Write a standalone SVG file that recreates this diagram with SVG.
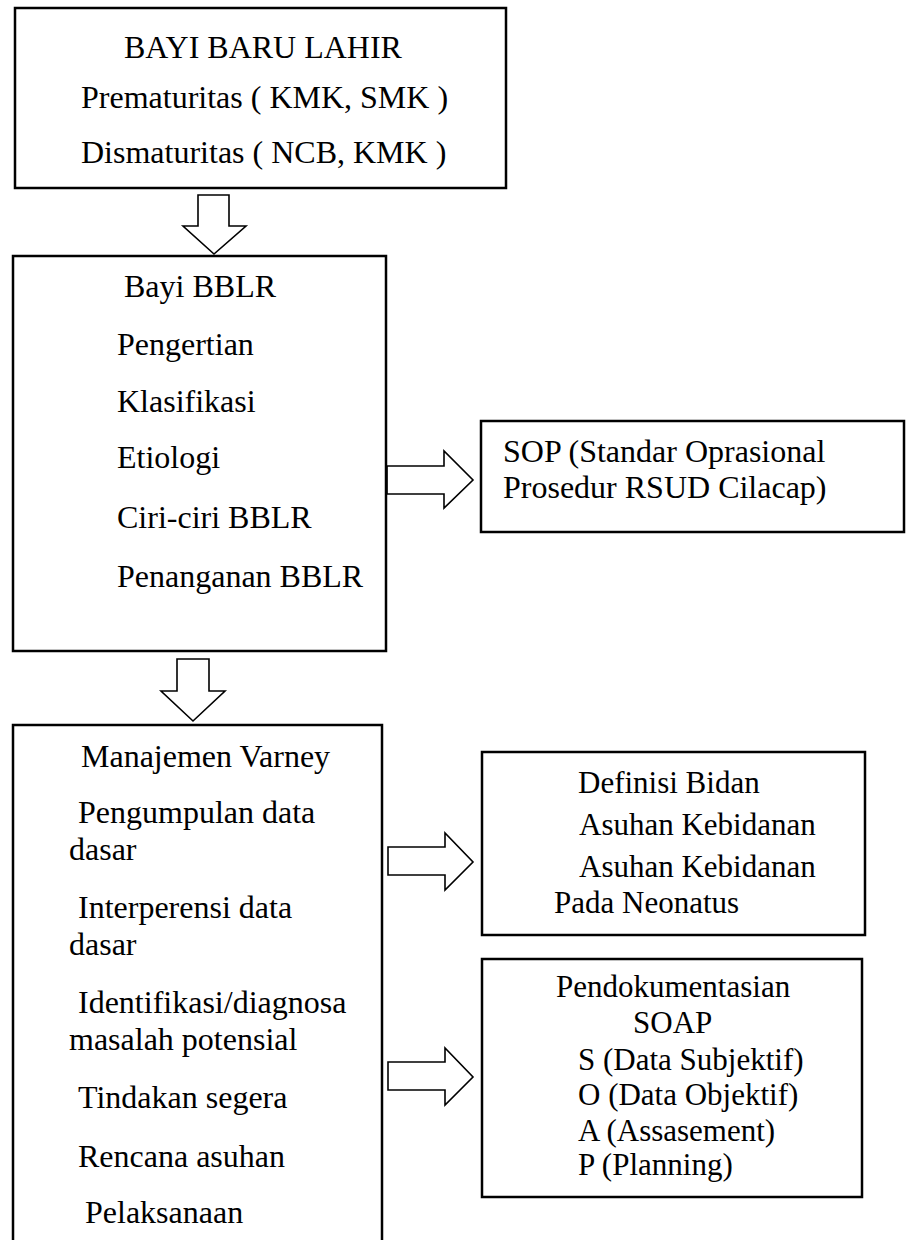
<svg xmlns="http://www.w3.org/2000/svg" width="906" height="1240" viewBox="0 0 906 1240">
<style>
  .box { fill: #fff; stroke: #000; stroke-width: 2.5; }
  .arr { fill: #fff; stroke: #000; stroke-width: 1.6; stroke-linejoin: miter; }
  text { font-family: "Liberation Serif", "Times New Roman", serif; font-size: 32px; fill: #000; }
  .sm { font-size: 31px; }
</style>
<rect width="906" height="1240" fill="#fff"/>
<g id="connectors">
  <polygon class="arr" points="198,195 229,195 229,226 246,226 214,254 183,226 198,226"/>
  <polygon class="arr" points="177,659 209,659 209,691 225,691 193,721 161,691 177,691"/>
  <polygon class="arr" points="387,466 444,466 444,451 473,480 444,508 444,494 387,494"/>
  <polygon class="arr" points="388,847 445,847 445,833 473,862 445,890 445,875 388,875"/>
  <polygon class="arr" points="388,1062 445,1062 445,1048 473,1077 445,1105 445,1090 388,1090"/>
</g>
<g id="bayi-baru-lahir">
  <rect class="box" x="15" y="8" width="491" height="180"/>
  <text x="124" y="58">BAYI BARU LAHIR</text>
  <text x="81" y="108">Prematuritas ( KMK, SMK )</text>
  <text x="81" y="163">Dismaturitas ( NCB, KMK )</text>
</g>
<g id="bayi-bblr">
  <rect class="box" x="13" y="256" width="373" height="395"/>
  <text x="124" y="297">Bayi BBLR</text>
  <text x="117" y="355">Pengertian</text>
  <text x="117" y="412">Klasifikasi</text>
  <text x="117" y="468">Etiologi</text>
  <text x="117" y="528">Ciri-ciri BBLR</text>
  <text x="117" y="587">Penanganan BBLR</text>
</g>
<g id="sop">
  <rect class="box" x="481" y="421" width="423" height="111"/>
  <text x="503" y="462">SOP (Standar Oprasional</text>
  <text x="503" y="498">Prosedur RSUD Cilacap)</text>
</g>
<g id="manajemen-varney">
  <rect class="box" x="13" y="725" width="369" height="530"/>
  <text x="81" y="767">Manajemen Varney</text>
  <text x="78" y="823">Pengumpulan data</text>
  <text x="69" y="860">dasar</text>
  <text x="78" y="918">Interperensi data</text>
  <text x="69" y="955">dasar</text>
  <text x="78" y="1013">Identifikasi/diagnosa</text>
  <text x="69" y="1050">masalah potensial</text>
  <text x="78" y="1108">Tindakan segera</text>
  <text x="78" y="1167">Rencana asuhan</text>
  <text x="85" y="1223">Pelaksanaan</text>
</g>
<g id="definisi-bidan">
  <rect class="box" x="482" y="752" width="383" height="183"/>
  <text class="sm" x="578" y="793">Definisi Bidan</text>
  <text class="sm" x="579" y="835">Asuhan Kebidanan</text>
  <text class="sm" x="579" y="877">Asuhan Kebidanan</text>
  <text class="sm" x="554" y="913">Pada Neonatus</text>
</g>
<g id="soap">
  <rect class="box" x="482" y="959" width="380" height="238"/>
  <text class="sm" x="556" y="997">Pendokumentasian</text>
  <text class="sm" x="633" y="1033">SOAP</text>
  <text class="sm" x="578" y="1070">S (Data Subjektif)</text>
  <text class="sm" x="578" y="1105">O (Data Objektif)</text>
  <text class="sm" x="578" y="1141">A (Assasement)</text>
  <text class="sm" x="578" y="1175">P (Planning)</text>
</g>
</svg>
